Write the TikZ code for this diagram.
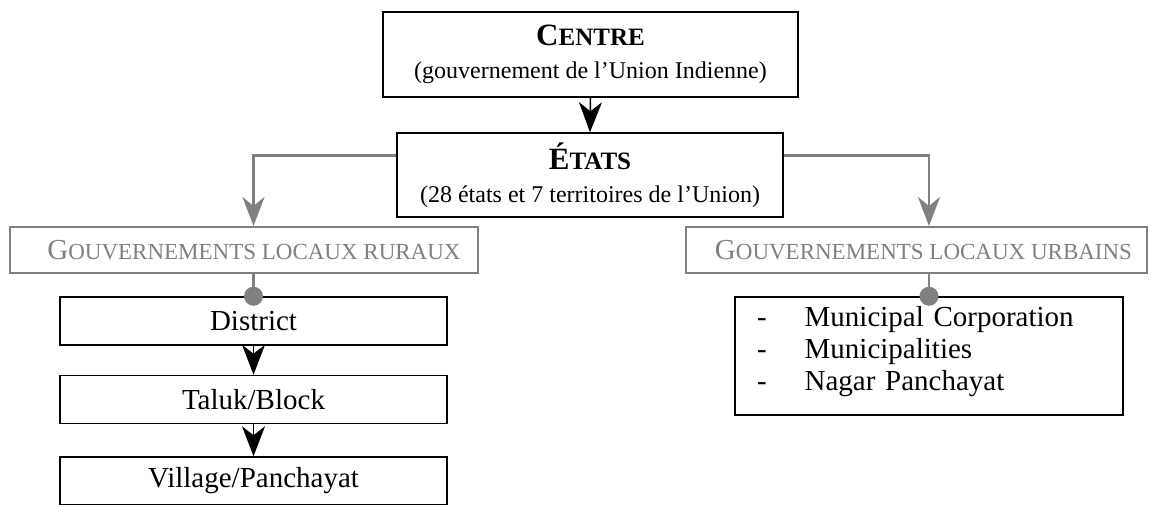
\documentclass[tikz,border=0pt]{standalone}
\usepackage{fontspec}
\setmainfont{Liberation Serif}
\usepackage{xcolor}
\usetikzlibrary{arrows.meta, positioning, calc}
\definecolor{grisligne}{RGB}{128,128,128}
\newcommand{\petit}[1]{{\fontsize{23}{23}\selectfont #1}}
\newcommand{\petitgras}[1]{{\fontsize{25}{25}\selectfont #1}}
\newcommand{\soustitre}[1]{{\fontsize{24}{26}\selectfont #1}}

\begin{document}
\begin{tikzpicture}[x=1pt, y=-1pt,
    boite/.style={draw, line width=1.5pt, inner sep=0pt, align=center, font=\fontsize{29}{32}\selectfont},
    entete/.style={draw=grisligne, line width=2pt, text=grisligne, inner sep=0pt, font=\fontsize{29}{32}\selectfont},
    fleche/.style={line width=1.5pt, -{Stealth[length=30pt, width=23pt, inset=9pt]}},
    flechegris/.style={draw=grisligne, line width=2.5pt, -{Stealth[length=29pt, width=22pt, inset=9pt]}},
    lien/.style={draw=grisligne, line width=2.5pt},
    point/.style={fill=grisligne},
  ]
    \useasboundingbox (0,0) rectangle (1156,504);

    % ── Centre et États ──
    \node[boite, minimum width=415pt, minimum height=85pt] (centre) at (590.5,54.5)
      {{\fontsize{31}{34}\selectfont\bfseries C\petitgras{ENTRE}}\\[1pt]\soustitre{(gouvernement de l’Union Indienne)}};
    \node[boite, minimum width=386pt, minimum height=84pt] (etats) at (590,175)
      {{\fontsize{31}{34}\selectfont\bfseries É\petitgras{TATS}}\\[1pt]\soustitre{(28 états et 7 territoires de l’Union)}};
    \draw[fleche] (centre.south) -- (etats.north);

    % ── Gouvernements locaux ──
    \node[entete, minimum width=468pt, minimum height=46pt] (rural) at (244,250)
      {\hspace*{20pt}G\petit{OUVERNEMENTS LOCAUX RURAUX}};
    \node[entete, minimum width=461pt, minimum height=46pt] (urbain) at (916.5,250)
      {\hspace*{14pt}G\petit{OUVERNEMENTS LOCAUX URBAINS}};

    % Rural (left)
    \node[boite, minimum width=387pt, minimum height=48pt] (district) at (253.5,321) {District};
    \node[boite, minimum width=387pt, minimum height=48pt] (taluk) at (253.5,399.5) {Taluk/Block};
    \node[boite, minimum width=387pt, minimum height=48pt] (village) at (253.5,481) {Village/Panchayat};
    \draw[fleche] (district.south) -- (taluk.north);
    \draw[fleche] (taluk.south) -- (village.north);

    % Urbain (right)
    \node[boite, align=left, text width=344pt, inner xsep=22pt, inner ysep=4pt,
          text height=25pt, text depth=85pt] (liste) at (929,356)
      {\begin{tabular}[t]{@{}l@{\hspace{38pt}}l@{}}
         - & Municipal Corporation\\
         - & Municipalities\\
         - & Nagar Panchayat
       \end{tabular}};

    % Liens gris
    \draw[flechegris] ([yshift=-23pt]etats.north west) -| (rural.north -| district.north);
    \draw[flechegris] ([yshift=-23pt]etats.north east) -| (urbain.north -| liste.north);
    \draw[lien] (rural.south -| district.north) -- (district.north);
    \draw[lien] (urbain.south -| liste.north) -- (liste.north);
    \fill[point] (district.north) circle (9.5);
    \fill[point] (liste.north) circle (9.5);
\end{tikzpicture}
\end{document}
